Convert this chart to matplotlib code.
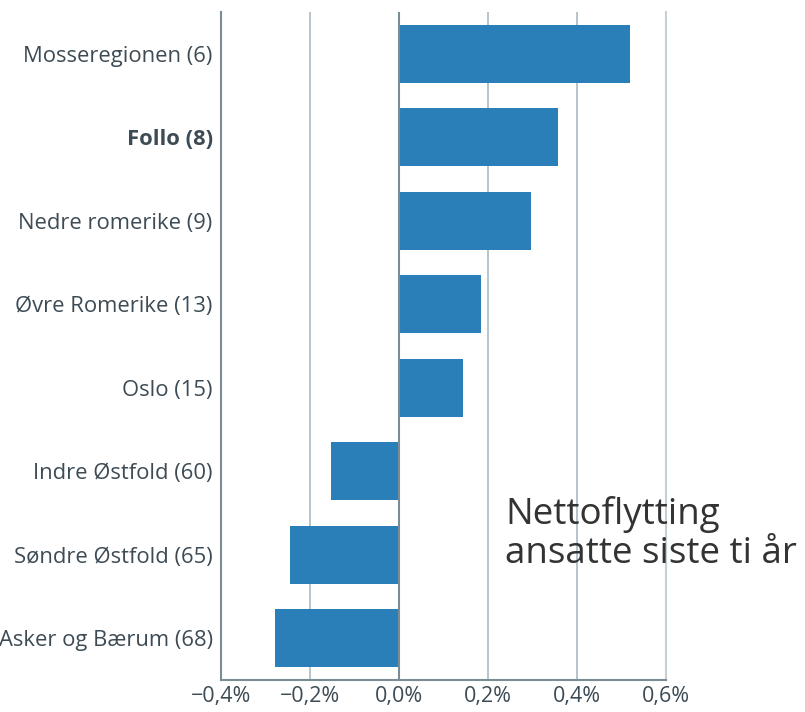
import matplotlib.pyplot as plt
from matplotlib.ticker import FuncFormatter

plt.rcParams['font.family'] = ['Open Sans', 'DejaVu Sans']

regions = ['Mosseregionen (6)', 'Follo (8)', 'Nedre romerike (9)', 'Øvre Romerike (13)',
           'Oslo (15)', 'Indre Østfold (60)', 'Søndre Østfold (65)', 'Asker og Bærum (68)']
values = [0.519, 0.357, 0.297, 0.184, 0.144, -0.153, -0.245, -0.279]
highlight = 'Follo (8)'
xticks = [-0.4, -0.2, 0.0, 0.2, 0.4, 0.6]

fig = plt.figure(figsize=(8.05, 7.12), dpi=100)
ax = fig.add_axes([221 / 805, 1 - 680 / 712, 445 / 805, 668 / 712])

ypos = list(range(len(regions)))
ax.barh(ypos, values, height=0.7, color='#2a7fb8', zorder=3)

ax.set_xlim(-0.4, 0.6)
ax.set_ylim(len(regions) - 0.5, -0.5)
ax.set_xticks(xticks)
ax.xaxis.set_major_formatter(FuncFormatter(lambda v, p: f'{v:.1f}%'.replace('.', ',').replace('-', '\u2212')))
ax.set_yticks(ypos)
ax.set_yticklabels(regions)

for lab in ax.get_yticklabels():
    if lab.get_text() == highlight:
        lab.set_fontweight('bold')

ax.tick_params(axis='y', length=0, pad=6, labelsize=15.8, labelcolor='#3d4b55')
ax.tick_params(axis='x', length=0, pad=4, labelsize=15.5, labelcolor='#3d4b55')

for x in [-0.2, 0.2, 0.4]:
    ax.axvline(x, color='#a9bac4', lw=1.2, zorder=1)
ax.axvline(0, color='#7a8c96', lw=1.5, zorder=4)

ax.spines['top'].set_visible(False)
ax.spines['left'].set_color('#7a8c96')
ax.spines['left'].set_linewidth(1.5)
ax.spines['bottom'].set_color('#7a8c96')
ax.spines['bottom'].set_linewidth(1.5)
ax.spines['right'].set_color('#c5d0d6')
ax.spines['right'].set_linewidth(1.5)

fig.text(505 / 805, 1 - 534 / 712, 'Nettoflytting\nansatte siste ti år', fontsize=26.5,
         color='#333333', va='center', ha='left', linespacing=1.1)

fig.savefig('out.png', dpi=100)
